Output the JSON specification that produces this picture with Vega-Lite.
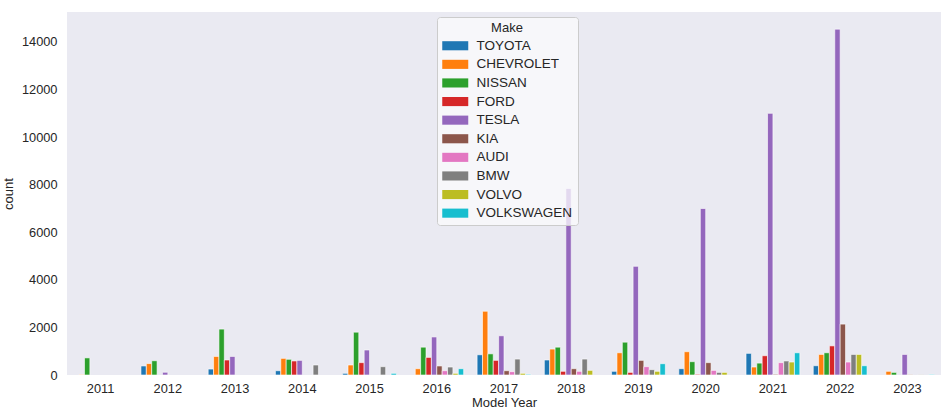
{
  "$schema": "https://vega.github.io/schema/vega-lite/v6.json",
  "width": 874,
  "height": 363,
  "autosize": {"type": "none"},
  "padding": {"left": 67, "top": 12, "right": 7, "bottom": 36},
  "background": "white",
  "view": {"fill": "#EAEAF2", "stroke": null},
  "config": {
    "font": "Liberation Sans",
    "axis": {"labelColor": "#262626", "titleColor": "#262626", "labelFontSize": 12.8, "titleFontSize": 13, "titleFontWeight": "normal", "ticks": false, "domain": false, "grid": false}
  },
  "data": {
    "values": [
      {"year": "2011", "make": "CHEVROLET", "count": 20},
      {"year": "2011", "make": "NISSAN", "count": 720},
      {"year": "2012", "make": "TOYOTA", "count": 380},
      {"year": "2012", "make": "CHEVROLET", "count": 480},
      {"year": "2012", "make": "NISSAN", "count": 600},
      {"year": "2012", "make": "TESLA", "count": 115},
      {"year": "2013", "make": "TOYOTA", "count": 250},
      {"year": "2013", "make": "CHEVROLET", "count": 780},
      {"year": "2013", "make": "NISSAN", "count": 1930},
      {"year": "2013", "make": "FORD", "count": 630},
      {"year": "2013", "make": "TESLA", "count": 780},
      {"year": "2014", "make": "TOYOTA", "count": 180},
      {"year": "2014", "make": "CHEVROLET", "count": 700},
      {"year": "2014", "make": "NISSAN", "count": 660},
      {"year": "2014", "make": "FORD", "count": 590},
      {"year": "2014", "make": "TESLA", "count": 615},
      {"year": "2014", "make": "BMW", "count": 420},
      {"year": "2015", "make": "TOYOTA", "count": 70},
      {"year": "2015", "make": "CHEVROLET", "count": 420},
      {"year": "2015", "make": "NISSAN", "count": 1800},
      {"year": "2015", "make": "FORD", "count": 520},
      {"year": "2015", "make": "TESLA", "count": 1050},
      {"year": "2015", "make": "BMW", "count": 350},
      {"year": "2015", "make": "VOLKSWAGEN", "count": 70},
      {"year": "2016", "make": "CHEVROLET", "count": 265},
      {"year": "2016", "make": "NISSAN", "count": 1170},
      {"year": "2016", "make": "FORD", "count": 740},
      {"year": "2016", "make": "TESLA", "count": 1600},
      {"year": "2016", "make": "KIA", "count": 380},
      {"year": "2016", "make": "AUDI", "count": 180},
      {"year": "2016", "make": "BMW", "count": 335},
      {"year": "2016", "make": "VOLVO", "count": 70},
      {"year": "2016", "make": "VOLKSWAGEN", "count": 265},
      {"year": "2017", "make": "TOYOTA", "count": 850},
      {"year": "2017", "make": "CHEVROLET", "count": 2680},
      {"year": "2017", "make": "NISSAN", "count": 890},
      {"year": "2017", "make": "FORD", "count": 615},
      {"year": "2017", "make": "TESLA", "count": 1650},
      {"year": "2017", "make": "KIA", "count": 180},
      {"year": "2017", "make": "AUDI", "count": 140},
      {"year": "2017", "make": "BMW", "count": 670},
      {"year": "2017", "make": "VOLVO", "count": 70},
      {"year": "2017", "make": "VOLKSWAGEN", "count": 30},
      {"year": "2018", "make": "TOYOTA", "count": 630},
      {"year": "2018", "make": "CHEVROLET", "count": 1090},
      {"year": "2018", "make": "NISSAN", "count": 1170},
      {"year": "2018", "make": "FORD", "count": 155},
      {"year": "2018", "make": "TESLA", "count": 7840},
      {"year": "2018", "make": "KIA", "count": 265},
      {"year": "2018", "make": "AUDI", "count": 155},
      {"year": "2018", "make": "BMW", "count": 670},
      {"year": "2018", "make": "VOLVO", "count": 195},
      {"year": "2019", "make": "TOYOTA", "count": 155},
      {"year": "2019", "make": "CHEVROLET", "count": 935},
      {"year": "2019", "make": "NISSAN", "count": 1380},
      {"year": "2019", "make": "FORD", "count": 110},
      {"year": "2019", "make": "TESLA", "count": 4570},
      {"year": "2019", "make": "KIA", "count": 615},
      {"year": "2019", "make": "AUDI", "count": 350},
      {"year": "2019", "make": "BMW", "count": 225},
      {"year": "2019", "make": "VOLVO", "count": 155},
      {"year": "2019", "make": "VOLKSWAGEN", "count": 475},
      {"year": "2020", "make": "TOYOTA", "count": 265},
      {"year": "2020", "make": "CHEVROLET", "count": 980},
      {"year": "2020", "make": "NISSAN", "count": 560},
      {"year": "2020", "make": "FORD", "count": 30},
      {"year": "2020", "make": "TESLA", "count": 7000},
      {"year": "2020", "make": "KIA", "count": 520},
      {"year": "2020", "make": "AUDI", "count": 195},
      {"year": "2020", "make": "BMW", "count": 110},
      {"year": "2020", "make": "VOLVO", "count": 110},
      {"year": "2021", "make": "TOYOTA", "count": 910},
      {"year": "2021", "make": "CHEVROLET", "count": 335},
      {"year": "2021", "make": "NISSAN", "count": 500},
      {"year": "2021", "make": "FORD", "count": 810},
      {"year": "2021", "make": "TESLA", "count": 11000},
      {"year": "2021", "make": "KIA", "count": 30},
      {"year": "2021", "make": "AUDI", "count": 520},
      {"year": "2021", "make": "BMW", "count": 590},
      {"year": "2021", "make": "VOLVO", "count": 545},
      {"year": "2021", "make": "VOLKSWAGEN", "count": 935},
      {"year": "2022", "make": "TOYOTA", "count": 390},
      {"year": "2022", "make": "CHEVROLET", "count": 865},
      {"year": "2022", "make": "NISSAN", "count": 935},
      {"year": "2022", "make": "FORD", "count": 1225},
      {"year": "2022", "make": "TESLA", "count": 14540},
      {"year": "2022", "make": "KIA", "count": 2140},
      {"year": "2022", "make": "AUDI", "count": 545},
      {"year": "2022", "make": "BMW", "count": 865},
      {"year": "2022", "make": "VOLVO", "count": 865},
      {"year": "2022", "make": "VOLKSWAGEN", "count": 390},
      {"year": "2023", "make": "CHEVROLET", "count": 155},
      {"year": "2023", "make": "NISSAN", "count": 110},
      {"year": "2023", "make": "TESLA", "count": 865},
      {"year": "2023", "make": "KIA", "count": 20},
      {"year": "2023", "make": "BMW", "count": 20},
      {"year": "2023", "make": "VOLKSWAGEN", "count": 25}
    ]
  },
  "mark": {"type": "bar", "stroke": "white", "strokeWidth": 0.6},
  "encoding": {
    "x": {
      "field": "year",
      "type": "ordinal",
      "title": "Model Year",
      "scale": {"paddingInner": 0.2, "paddingOuter": 0.1},
      "axis": {"labelAngle": 0, "labelPadding": 7, "titlePadding": 2}
    },
    "xOffset": {
      "field": "make",
      "type": "nominal",
      "sort": ["TOYOTA", "CHEVROLET", "NISSAN", "FORD", "TESLA", "KIA", "AUDI", "BMW", "VOLVO", "VOLKSWAGEN"],
      "scale": {"paddingInner": 0, "paddingOuter": 0}
    },
    "y": {
      "field": "count",
      "type": "quantitative",
      "title": "count",
      "scale": {"domain": [0, 15260], "nice": false},
      "axis": {"values": [0, 2000, 4000, 6000, 8000, 10000, 12000, 14000], "format": "d", "labelPadding": 10, "titlePadding": 6}
    },
    "color": {
      "field": "make",
      "type": "nominal",
      "title": "Make",
      "sort": ["TOYOTA", "CHEVROLET", "NISSAN", "FORD", "TESLA", "KIA", "AUDI", "BMW", "VOLVO", "VOLKSWAGEN"],
      "scale": {"range": ["#1f77b4", "#ff7f0e", "#2ca02c", "#d62728", "#9467bd", "#8c564b", "#e377c2", "#7f7f7f", "#bcbd22", "#17becf"]},
      "legend": {
        "orient": "none",
        "legendX": 370,
        "legendY": 5,
        "titleAnchor": "middle",
        "titleFontSize": 13,
        "titleFontWeight": "normal",
        "titleColor": "#262626",
        "titlePadding": 4,
        "labelColor": "#262626",
        "labelFontSize": 13.5,
        "symbolType": "M-2,-0.7L2,-0.7L2,0.7L-2,0.7Z",
        "symbolSize": 169,
        "symbolStrokeWidth": 0,
        "symbolOffset": 6.5,
        "rowPadding": 3.6,
        "labelOffset": 14.5,
        "fillColor": "rgba(250,250,252,0.78)",
        "strokeColor": "#CCCCCC",
        "cornerRadius": 3,
        "padding": 5
      }
    }
  }
}
